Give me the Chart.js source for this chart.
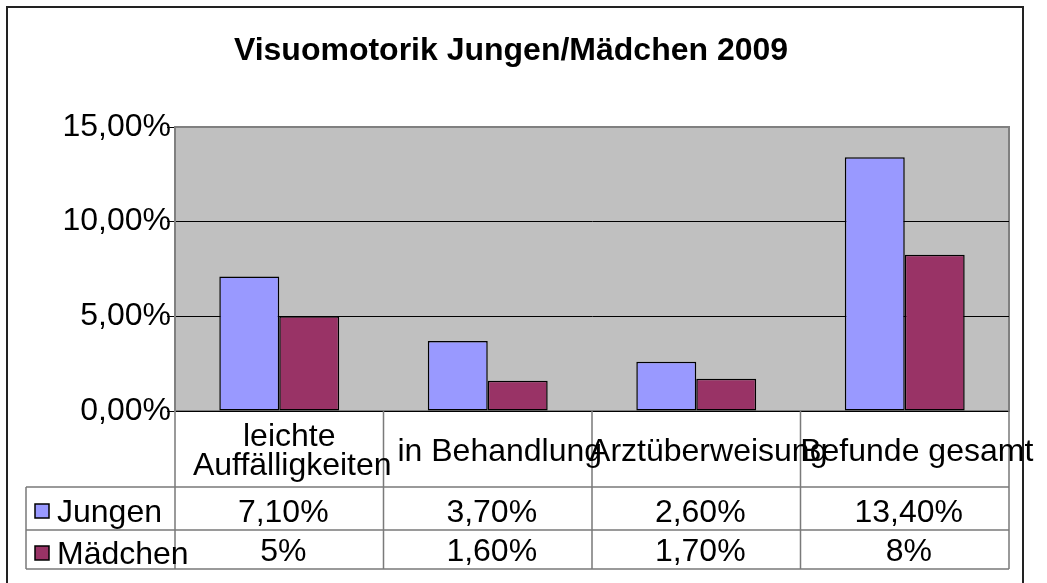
<!DOCTYPE html>
<html>
<head>
<meta charset="utf-8">
<script src="https://cdn.jsdelivr.net/npm/chart.js@4"></script>
<style>
  body { margin: 0; background: #fff; }
</style>
</head>
<body>
<canvas id="myBarChart" width="1047" height="583"></canvas>
<script>
const categories = ["leichte Auffälligkeiten", "in Behandlung", "Arztüberweisung", "Befunde gesamt"];
const categoryLines = [["leichte", "Auffälligkeiten"], ["in Behandlung"], ["Arztüberweisung"], ["Befunde gesamt"]];
const seriesNames = ["Jungen", "Mädchen"];
const jungen = [7.1, 3.7, 2.6, 13.4];
const maedchen = [5.0, 1.6, 1.7, 8.25];
const jungenLabels = ["7,10%", "3,70%", "2,60%", "13,40%"];
const maedchenLabels = ["5%", "1,60%", "1,70%", "8%"];
const yTicks = [0, 5, 10, 15];
const titleText = "Visuomotorik Jungen/Mädchen 2009";

const colors = ["#9999ff", "#993366"];
const FONT = '"Liberation Sans", Arial, sans-serif';

// background, frame and title
const framePlugin = {
  id: "frame",
  beforeDraw(chart) {
    const c = chart.ctx;
    const a = chart.chartArea;
    c.save();
    c.fillStyle = "#fff";
    c.fillRect(0, 0, chart.width, chart.height);
    c.strokeStyle = "#222";
    c.lineWidth = 2;
    c.strokeRect(7, 7, 1016, 620);
    c.fillStyle = "#c0c0c0";
    c.fillRect(a.left, a.top, a.right - a.left, a.bottom - a.top);
    c.strokeStyle = "#808080";
    c.lineWidth = 2;
    c.strokeRect(a.left, a.top, a.right - a.left, a.bottom - a.top);
    c.fillStyle = "#000";
    c.font = "bold 32px " + FONT;
    c.textAlign = "center";
    c.textBaseline = "middle";
    c.fillText(titleText, 511, 51);
    c.restore();
  },
};

// data table under the plot
const tablePlugin = {
  id: "dataTable",
  afterDraw(chart) {
    const c = chart.ctx;
    const a = chart.chartArea;
    const x = chart.scales.x;
    const colW = (a.right - a.left) / categories.length;
    const tableLeft = 26;
    const row1 = 487, row2 = 530, row3 = 569;
    c.save();
    c.strokeStyle = "#7a7a7a";
    c.lineWidth = 1.5;
    c.beginPath();
    for (let i = 0; i <= categories.length; i++) {
      const xx = a.left + i * colW;
      c.moveTo(xx, a.bottom);
      c.lineTo(xx, row3);
    }
    [row1, row2, row3].forEach((yy) => {
      c.moveTo(tableLeft, yy);
      c.lineTo(a.right, yy);
    });
    c.moveTo(tableLeft, row1);
    c.lineTo(tableLeft, row3);
    c.stroke();

    c.fillStyle = "#000";
    c.font = "32px " + FONT;
    c.textAlign = "center";
    c.textBaseline = "middle";
    categoryLines.forEach((lines, i) => {
      const cx = x.getPixelForValue(i);
      if (lines.length === 2) {
        c.fillText(lines[0], cx + 10, 437);
        c.fillText(lines[1], cx + 13, 466);
      } else {
        c.fillText(lines[0], cx + 12, 452);
      }
      c.fillText(jungenLabels[i], cx + 4, 513);
      c.fillText(maedchenLabels[i], cx + 4, 552);
    });

    // legend keys
    c.textAlign = "left";
    [[seriesNames[0], 511], [seriesNames[1], 553]].forEach(([name, yy], k) => {
      c.fillStyle = colors[k];
      c.fillRect(35, yy - 7, 14, 14);
      c.strokeStyle = "#000";
      c.lineWidth = 1.5;
      c.strokeRect(35, yy - 7, 14, 14);
      c.fillStyle = "#000";
      c.fillText(name, 57, yy + 2);
    });
    c.restore();
  },
};

const ctx = document.getElementById("myBarChart").getContext("2d");

const data = {
  labels: categories,
  datasets: [
    {
      label: seriesNames[0],
      data: jungen,
      backgroundColor: colors[0],
      borderColor: "#000",
      borderWidth: 1.5,
      borderSkipped: false,
    },
    {
      label: seriesNames[1],
      data: maedchen,
      backgroundColor: colors[1],
      borderColor: "#000",
      borderWidth: 1.5,
      borderSkipped: false,
    },
  ],
};

const options = {
  responsive: false,
  animation: false,
  devicePixelRatio: 1,
  layout: {
    padding: { left: 0, top: 127, right: 38, bottom: 172 },
  },
  datasets: {
    bar: { categoryPercentage: 0.575, barPercentage: 1 },
  },
  plugins: {
    legend: { display: false },
    title: { display: false },
    tooltip: { enabled: false },
  },
  scales: {
    x: {
      display: false,
      grid: { display: false },
    },
    y: {
      min: 0,
      max: 15,
      afterFit(scale) {
        scale.width = 175;
      },
      afterBuildTicks(scale) {
        scale.ticks = yTicks.map((v) => ({ value: v }));
      },
      border: { display: true, color: "#808080", width: 2 },
      grid: {
        color: (c) => (c.tick && c.tick.value === 15 ? "#808080" : "#000"),
        lineWidth: 1,
        drawTicks: true,
        tickLength: 8,
        tickColor: "#000",
      },
      ticks: {
        padding: -4,
        color: "#000",
        font: { size: 32, family: FONT },
        callback: (v) => v.toFixed(2).replace(".", ",") + "%",
      },
    },
  },
};

myBarChart = new Chart(ctx, {
  type: "bar",
  data: data,
  options: options,
  plugins: [framePlugin, tablePlugin],
});
</script>
</body>
</html>
